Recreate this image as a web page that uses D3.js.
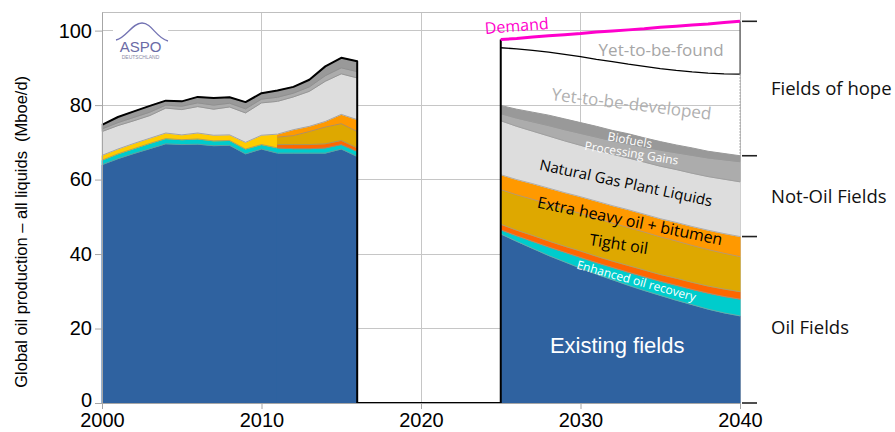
<!DOCTYPE html>
<html>
<head>
<meta charset="utf-8">
<script src="https://cdnjs.cloudflare.com/ajax/libs/d3/7.8.5/d3.min.js"></script>
<style>
  body { margin: 0; background: #fff; }
  svg { display: block; }
  text { font-family: "Liberation Sans", Arial, sans-serif; }
  .lbl { font-family: "Open Sans", sans-serif; }
</style>
</head>
<body>
<svg width="895" height="432"></svg>
<script>
// ---- data (Mboe/d) ----
const histYears    = [2000,2001,2002,2003,2004,2005,2006,2007,2008,2009,2010,2011,2012,2013,2014,2015,2016];
const histExisting = [64.0,65.6,67.0,68.3,69.6,69.4,69.5,69.1,69.2,66.9,68.2,67.1,67.1,67.1,67.1,68.2,66.2];
const histEor      = [1.2,1.3,1.3,1.4,1.4,1.3,1.4,1.3,1.3,1.3,1.2,1.4,1.2,1.2,1.4,1.2,1.4];
const histYellow   = [1.3,1.3,1.4,1.4,1.5,1.3,1.6,1.5,1.5,1.8,2.5,3.7,null,null,null,null,null];
const histRed      = [null,null,null,null,null,null,null,null,null,null,null,0.9,1.1,1.1,1.1,1.1,0.9];
const histTight    = [null,null,null,null,null,null,null,null,null,null,null,2.0,2.4,3.5,4.5,4.5,4.4];
const histHeavy    = [null,null,null,null,null,null,null,null,null,null,null,0.8,1.6,1.4,1.5,2.5,3.2];
const histNgl      = [6.4,6.3,6.1,6.1,6.7,6.8,7.1,7.0,7.5,7.9,8.7,8.8,8.8,9.4,10.8,10.9,11.2];
const histPg       = [0.7,0.8,0.9,0.9,0.8,0.9,1.0,1.1,1.0,1.1,1.0,1.1,1.0,1.2,1.5,1.6,1.7];
const histBio      = [1.1,1.5,1.6,1.7,1.2,1.3,1.6,1.9,1.6,1.8,1.6,1.8,1.7,1.9,2.5,2.7,2.8];

const futYears    = [2025,2026,2027,2028,2029,2030,2031,2032,2033,2034,2035,2036,2037,2038,2039,2040];
const futExisting = [45.4,43.4,41.5,39.6,37.9,36.2,34.6,33.1,31.6,30.2,28.9,27.6,26.4,25.2,24.2,23.4];
const futEor      = [1.1,1.5,1.9,2.3,2.6,2.9,3.1,3.3,3.5,3.7,3.8,4.0,4.1,4.3,4.4,4.5];
const futRed      = [1.5,1.5,1.6,1.6,1.6,1.7,1.7,1.7,1.8,1.8,1.8,1.9,1.9,1.9,2.0,2.0];
const futTight    = [9.3,9.5,9.7,9.9,10.0,10.1,10.2,10.2,10.2,10.2,10.1,10.0,9.9,9.8,9.6,9.4];
const futHeavy    = [4.0,4.1,4.2,4.3,4.4,4.5,4.6,4.7,4.8,4.8,4.9,5.0,5.1,5.2,5.3,5.4];
const futNgl      = [14.5,14.3,14.1,14.0,13.9,13.8,13.8,13.8,13.9,14.0,14.1,14.2,14.3,14.4,14.6,14.7];
const futPg       = [1.9,2.2,2.5,2.8,3.0,3.2,3.4,3.6,3.8,4.0,4.3,4.5,4.8,5.0,5.2,5.4];
const futBio      = [2.2,2.4,2.6,2.8,2.9,2.9,2.9,2.8,2.7,2.5,2.3,2.1,2.0,1.8,1.7,1.6];
const futYtbdTop  = [95.4,95.1,94.7,94.2,93.6,93.0,92.3,91.7,91.0,90.4,89.8,89.3,88.9,88.6,88.4,88.3];
const futDemand   = [97.6,97.9,98.3,98.6,98.9,99.2,99.6,99.9,100.2,100.5,100.9,101.2,101.5,101.8,102.2,102.5];

const yTicks = [0,20,40,60,80,100];
const xTicks = [2000,2010,2020,2030,2040];

const colors = {
  existing: '#2f62a0', eor: '#00cccc', yellow: '#ffcc00', red: '#ff6600',
  tight: '#dea800', heavy: '#ff9900', ngl: '#dddddd', pg: '#acacac', bio: '#999999'
};

const svg = d3.select('svg');
const width = 895, height = 432;
const margin = { top: 12, right: 155, bottom: 29, left: 102 };

const x = d3.scaleLinear().domain([2000, 2040]).range([margin.left, width - margin.right]);
const y = d3.scaleLinear().domain([0, 105]).range([height - margin.bottom, margin.top]);

// ---- grid ----
const grid = svg.append('g').attr('shape-rendering', 'crispEdges');
grid.selectAll('.hgrid').data(yTicks.filter(d => d > 0)).enter().append('line')
  .attr('x1', x(2000)).attr('x2', x(2040))
  .attr('y1', d => y(d)).attr('y2', d => y(d))
  .attr('stroke', '#c6c6c6');
grid.selectAll('.vgrid').data([2010, 2020, 2030]).enter().append('line')
  .attr('x1', d => x(d)).attr('x2', d => x(d))
  .attr('y1', y(0)).attr('y2', y(105))
  .attr('stroke', '#c6c6c6');
grid.append('path')
  .attr('d', `M${x(2000)},${y(105)}H${x(2040)}V${y(0)}`)
  .attr('fill', 'none').attr('stroke', '#bfbfbf');

// ---- rows for stacking ----
const histRows = histYears.map((yr, i) => ({
  year: yr, existing: histExisting[i], eor: histEor[i], yellow: histYellow[i],
  red: histRed[i], tight: histTight[i], heavy: histHeavy[i],
  ngl: histNgl[i], pg: histPg[i], bio: histBio[i]
}));
const futRows = futYears.map((yr, i) => ({
  year: yr, existing: futExisting[i], eor: futEor[i], red: futRed[i], tight: futTight[i],
  heavy: futHeavy[i], ngl: futNgl[i], pg: futPg[i], bio: futBio[i]
}));

const stackA = d3.stack().keys(['existing','eor','yellow','ngl','pg','bio'])(histRows.filter(d => d.year <= 2011));
const stackB = d3.stack().keys(['existing','eor','red','tight','heavy','ngl','pg','bio'])(histRows.filter(d => d.year >= 2011));
const stackF = d3.stack().keys(['existing','eor','red','tight','heavy','ngl','pg','bio'])(futRows);

const area = d3.area()
  .x(d => x(d.data.year))
  .y0(d => y(d[0]))
  .y1(d => y(d[1]));
const topLine = d3.line()
  .x(d => x(d.data.year))
  .y(d => y(d[1]));

const drawStack = (series, edgeColor) => {
  const g = svg.append('g');
  g.selectAll('path.layer').data(series).enter().append('path')
    .attr('d', area)
    .attr('fill', d => colors[d.key])
    .attr('stroke', d => colors[d.key])
    .attr('stroke-width', 1);
  g.selectAll('path.edge').data(series.slice(0, -1)).enter().append('path')
    .attr('d', d => topLine(d))
    .attr('fill', 'none')
    .attr('stroke', edgeColor)
    .attr('stroke-width', 0.7);
};
drawStack(stackA, '#8c8c8c');
drawStack(stackB, '#8c8c8c');
drawStack(stackF, '#9a9a9a');

// ---- outlines ----
const topA = stackA[stackA.length - 1], topB = stackB[stackB.length - 1];
const outline = topA.concat(topB.slice(1)).map(d => [x(d.data.year), y(d[1])]);
outline.push([x(2016), y(0)], [x(2025), y(0)], [x(2025), y(futDemand[0])]);
svg.append('path')
  .attr('d', d3.line()(outline))
  .attr('fill', 'none').attr('stroke', '#000').attr('stroke-width', 2)
  .attr('stroke-linejoin', 'round');

const futTop = stackF[stackF.length - 1];
const lastTop = futTop[futTop.length - 1][1];
const last = futYears.length - 1;

svg.append('path')
  .attr('d', d3.line().x((d, i) => x(futYears[i])).y(d => y(d))(futYtbdTop))
  .attr('fill', 'none').attr('stroke', '#000').attr('stroke-width', 1.3);

svg.append('line')
  .attr('x1', x(2040)).attr('x2', x(2040))
  .attr('y1', y(futDemand[last])).attr('y2', y(futYtbdTop[last]))
  .attr('stroke', '#555').attr('stroke-width', 1.2);
svg.append('line')
  .attr('x1', x(2040)).attr('x2', x(2040))
  .attr('y1', y(futYtbdTop[last])).attr('y2', y(lastTop))
  .attr('stroke', '#9a9a9a').attr('stroke-width', 1).attr('stroke-dasharray', '1.5,1.5');

svg.append('path')
  .attr('d', d3.line().x((d, i) => x(futYears[i])).y(d => y(d))(futDemand))
  .attr('fill', 'none').attr('stroke', '#ff00cc').attr('stroke-width', 3);

// ---- ASPO logo ----
const logo = svg.append('g');
logo.append('rect').attr('x', 113).attr('y', 18).attr('width', 55).attr('height', 44).attr('fill', '#fff');
logo.append('path')
  .attr('d', 'M116,40 C126,38 132,23 142,23 C152,23 156,38 168,41')
  .attr('fill', 'none').attr('stroke', '#7373b3').attr('stroke-width', 1.3);
logo.append('text').attr('x', 140.5).attr('y', 51.5).attr('text-anchor', 'middle')
  .attr('font-size', 15).attr('fill', '#6b6ba6').text('ASPO');
logo.append('text').attr('x', 140.5).attr('y', 58.5).attr('text-anchor', 'middle')
  .attr('font-size', 5).attr('fill', '#8a8aa6').text('DEUTSCHLAND');

// ---- in-chart labels ----
const label = (txt, yr, val, rot, size, fill, cls) => {
  svg.append('text')
    .attr('class', cls || 'lbl')
    .attr('transform', `translate(${x(yr)},${y(val)}) rotate(${rot})`)
    .attr('text-anchor', 'middle')
    .attr('dy', '0.35em')
    .attr('font-size', size)
    .attr('fill', fill)
    .text(txt);
};
label('Demand', 2026.0, 101.3, -4.5, 16, '#ff00cc');
label('Yet-to-be-found', 2035.05, 94.8, 0, 17, '#a6a6a6');
label('Yet-to-be-developed', 2033.2, 80.3, 7, 17, '#b0b0b0');
label('Biofuels', 2033.1, 70.6, 10, 12, '#fff');
label('Processing Gains', 2033.2, 67.1, 9, 12, '#fff');
label('Natural Gas Plant Liquids', 2032.85, 59.1, 12, 15, '#000');
label('Extra heavy oil + bitumen', 2033.1, 48.9, 11.5, 16, '#000');
label('Tight oil', 2032.4, 42.7, 9, 16, '#000');
label('Enhanced oil recovery', 2033.5, 32.8, 15.5, 12, '#fff');
label('Existing fields', 2032.3, 15.6, 0, 22, '#fff', 'plain');

// ---- right-hand bracket ticks and group names ----
const oilTop = futExisting[last] + futEor[last] + futRed[last] + futTight[last] + futHeavy[last];
const bracket = [futDemand[last], lastTop, oilTop, 0];
svg.selectAll('.bracket').data(bracket).enter().append('line')
  .attr('x1', x(2040) + 2).attr('x2', x(2040) + 17)
  .attr('y1', d => y(d)).attr('y2', d => y(d))
  .attr('stroke', '#222').attr('stroke-width', 1.6);
const groups = [['Fields of hope', (bracket[0] + bracket[1]) / 2], ['Not-Oil Fields', (bracket[1] + bracket[2]) / 2], ['Oil Fields', 20.3]];
svg.selectAll('.group').data(groups).enter().append('text')
  .attr('class', 'lbl')
  .attr('x', x(2040) + 31).attr('y', d => y(d[1])).attr('dy', '0.35em')
  .attr('font-size', 18.5).attr('fill', '#111')
  .text(d => d[0]);

// ---- axes ----
const yAxis = svg.append('g')
  .attr('transform', `translate(${x(2000)},0)`)
  .call(d3.axisLeft(y).tickValues(yTicks).tickSize(7).tickSizeOuter(0).tickPadding(3));
const xAxis = svg.append('g')
  .attr('transform', `translate(0,${y(0)})`)
  .call(d3.axisBottom(x).tickValues(xTicks).tickFormat(d3.format('d')).tickSize(6).tickSizeOuter(0).tickPadding(4));
[yAxis, xAxis].forEach(a => {
  a.select('.domain').attr('stroke', '#a6a6a6');
  a.selectAll('.tick line').attr('stroke', '#a6a6a6');
  a.selectAll('.tick text').attr('font-size', 20).attr('fill', '#000')
    .attr('font-family', '"Liberation Sans", Arial, sans-serif');
});
yAxis.select('.tick text').attr('dy', '0.15em');

svg.append('text')
  .attr('transform', `translate(26.5,${(y(0) + y(100)) / 2 + 15}) rotate(-90)`)
  .attr('text-anchor', 'middle')
  .attr('font-size', 16.5)
  .style('white-space', 'pre')
  .text('Global oil production \u2013 all liquids  (Mboe/d)');
</script>
</body>
</html>
